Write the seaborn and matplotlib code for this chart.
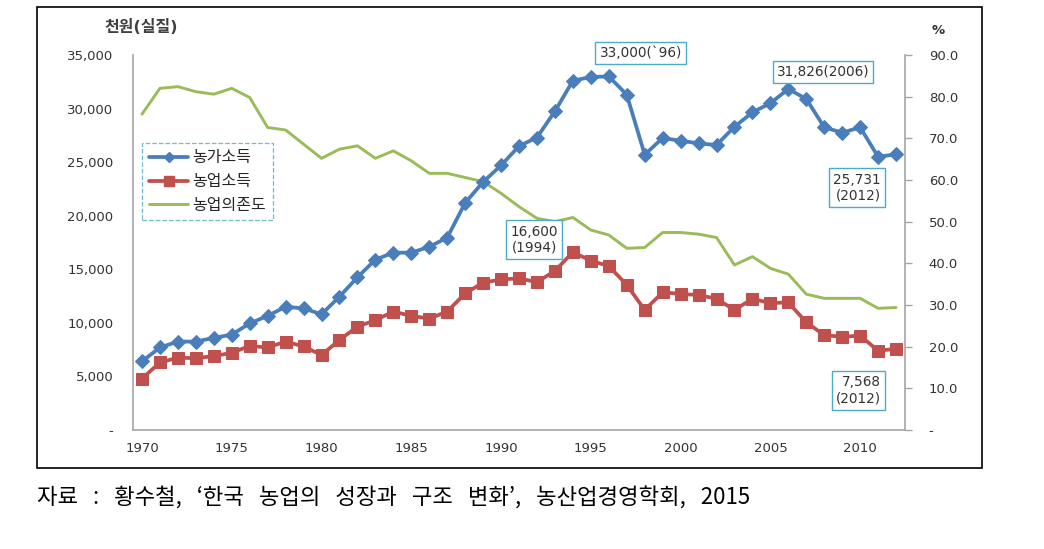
import pandas as pd
import seaborn as sns
import matplotlib.pyplot as plt
from matplotlib.lines import Line2D
from matplotlib.patches import Rectangle
from matplotlib.ticker import FuncFormatter, MultipleLocator


# data
years = list(range(1970, 2013))

farm_income = [6400, 7700, 8250, 8250, 8600, 8900, 9950, 10650, 11500, 11350,
               10800, 12450, 14250, 15900, 16550, 16550, 17100, 17950, 21200, 23150,
               24700, 26500, 27300, 29750, 32600, 32950, 33000, 31300, 25700, 27250,
               27000, 26750, 26600, 28300, 29650, 30500, 31826, 30900, 28250, 27750,
               28250, 25500, 25731]

ag_income = [4800, 6300, 6750, 6700, 6900, 7200, 7850, 7700, 8250, 7800,
             7000, 8400, 9650, 10250, 11050, 10650, 10400, 11050, 12750, 13750,
             14050, 14150, 13800, 14850, 16600, 15800, 15300, 13550, 11200, 12850,
             12700, 12600, 12250, 11200, 12250, 11850, 11900, 10050, 8850, 8700,
             8800, 7400, 7568]

dependency = [75.8, 82.0, 82.4, 81.2, 80.6, 82.0, 79.8, 72.6, 72.0, 68.6,
              65.2, 67.4, 68.2, 65.2, 67.0, 64.6, 61.6, 61.6, 60.6, 59.6,
              56.8, 53.6, 50.8, 50.0, 51.0, 48.0, 46.8, 43.6, 43.8, 47.4,
              47.4, 47.0, 46.2, 39.6, 41.6, 38.8, 37.4, 32.6, 31.6, 31.6,
              31.6, 29.2, 29.4]

series_names = ["농가소득", "농업소득", "농업의존도"]
x_ticks = [1970, 1975, 1980, 1985, 1990, 1995, 2000, 2005, 2010]

df = pd.DataFrame({"year": years, "farm": farm_income, "ag": ag_income, "dep": dependency})

BLUE = "#4a7ebb"
RED = "#c0504d"
GREEN = "#9bbb59"
BOXC = "#4bacc6"
TXT = "#333333"

sns.set_style("white")
plt.rcParams['font.family'] = ['DejaVu Sans', 'Noto Sans CJK KR']

fig = plt.figure(figsize=(10.44, 5.49), dpi=100)
ax = fig.add_axes([0.1274, 0.2168, 0.7395, 0.6830])
ax2 = ax.twinx()

# green line on the secondary axis, drawn below the income lines
sns.lineplot(data=df, x="year", y="dep", ax=ax2, color=GREEN, linewidth=2.1)
sns.lineplot(data=df, x="year", y="farm", ax=ax, color=BLUE, linewidth=2.7,
             marker="D", markersize=7, markeredgecolor=BLUE)
sns.lineplot(data=df, x="year", y="ag", ax=ax, color=RED, linewidth=2.7,
             marker="s", markersize=8.5, markeredgecolor=RED)

ax.set_zorder(ax2.get_zorder() + 1)
ax.patch.set_visible(False)

ax.set_xlim(1969.5, 2012.5)
ax.set_ylim(0, 35000)
ax2.set_ylim(0, 90)
ax.set_xticks(x_ticks)
ax.yaxis.set_major_locator(MultipleLocator(5000))
ax2.yaxis.set_major_locator(MultipleLocator(10))
ax.yaxis.set_major_formatter(FuncFormatter(lambda v, p: "-" if v == 0 else f"{v:,.0f}"))
ax2.yaxis.set_major_formatter(FuncFormatter(lambda v, p: "-" if v == 0 else f"{v:.1f}"))
ax.set_xlabel("")
ax.set_ylabel("")
ax2.set_ylabel("")

for a in (ax, ax2):
    for s in a.spines.values():
        s.set_visible(False)
ax.spines["left"].set_visible(True)
ax.spines["bottom"].set_visible(True)
ax2.spines["right"].set_visible(True)
for s in (ax.spines["left"], ax.spines["bottom"], ax2.spines["right"]):
    s.set_color("#a6a6a6")
    s.set_linewidth(1.2)

ax.tick_params(axis="y", length=0, pad=14, labelsize=9.5, labelcolor=TXT)
ax.tick_params(axis="x", length=0, pad=9, labelsize=9.5, labelcolor=TXT)
ax2.tick_params(axis="y", length=5, width=1, color="#a6a6a6", pad=12,
                labelsize=9.5, labelcolor=TXT)

# axis unit labels
fig.text(0.1355, 0.950, "천원(실질)", fontsize=11.5, color="#404040", ha="center",
         va="center", fontweight="bold")
fig.text(0.899, 0.944, "%", fontsize=9.5, color=TXT, ha="center", va="center",
         fontweight="bold")

# value callouts
box = dict(boxstyle="square,pad=0.3", facecolor="white", edgecolor=BOXC, linewidth=1)
notes = [
    ("33,000(`96)", 1996, 33000, (23, 17)),
    ("31,826(2006)", 2006, 31826, (25, 12)),
    ("25,731\n(2012)", 2012, 25731, (-28, -24)),
    ("16,600\n(1994)", 1994, 16600, (-28, 9)),
    ("7,568\n(2012)", 2012, 7568, (-27, -30)),
]
for txt, xv, yv, off in notes:
    ax.annotate(txt, xy=(xv, yv), xytext=off, textcoords="offset points",
                ha="center", va="center", multialignment="right",
                fontsize=9.8, color=TXT, bbox=box, zorder=6)

# legend
handles = [
    Line2D([], [], color=BLUE, linewidth=2.7, marker="D", markersize=5),
    Line2D([], [], color=RED, linewidth=2.7, marker="s", markersize=6.5),
    Line2D([], [], color=GREEN, linewidth=2.1),
]
leg = ax.legend(handles, series_names, loc="upper left", bbox_to_anchor=(0.012, 0.765),
                borderaxespad=0, frameon=True, fancybox=False, fontsize=11.5,
                handlelength=2.4, labelspacing=0.55, borderpad=0.45, handletextpad=0.25)
leg.get_frame().set_edgecolor(BOXC)
leg.get_frame().set_linestyle("--")
leg.get_frame().set_linewidth(0.9)
leg.set_zorder(7)

# outer frame and source note
fig.patches.append(Rectangle((37 / 1044, 1 - 468 / 549), 945 / 1044, 461 / 549,
                             transform=fig.transFigure, fill=False,
                             edgecolor="black", linewidth=1.2))
fig.text(37 / 1044, 1 - 498 / 549,
         "자료   :   황수철,   ‘한국   농업의   성장과   구조   변화’,   농산업경영학회,   2015",
         fontsize=16, color="black", ha="left", va="center",
         family=["Noto Sans CJK KR", "DejaVu Sans"])

fig.savefig("out.png", dpi=100)
